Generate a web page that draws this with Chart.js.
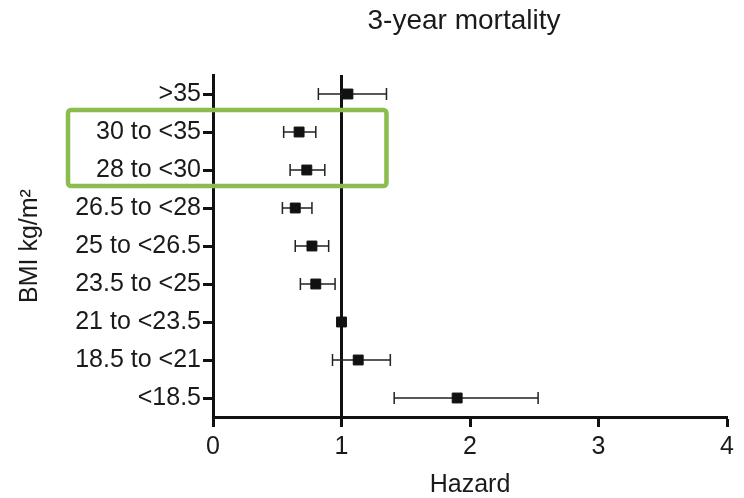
<!DOCTYPE html>
<html lang="en">
<head>
  <meta charset="UTF-8">
  <title>3-year mortality</title>
  <script src="https://cdn.jsdelivr.net/npm/chart.js"></script>
  <style>
    body { margin: 0; background: #fff; }
    #wrap { width: 744px; height: 498px; }
  </style>
</head>
<body>
  <div id="wrap"><canvas id="hazard-chart"></canvas></div>

  <script>
    // BMI groups, top to bottom
    const bmiGroups = ['>35', '30 to <35', '28 to <30', '26.5 to <28', '25 to <26.5', '23.5 to <25', '21 to <23.5', '18.5 to <21', '<18.5'];
    // hazard ratio and 95% CI per group (21 to <23.5 is the reference)
    const hazard = [1.05, 0.67, 0.73, 0.64, 0.77, 0.80, 1.00, 1.13, 1.90];
    const lower  = [0.82, 0.55, 0.60, 0.54, 0.64, 0.68, null, 0.93, 1.41];
    const upper  = [1.35, 0.80, 0.87, 0.77, 0.90, 0.95, null, 1.38, 2.53];
    const hazardTicks = [0, 1, 2, 3, 4];

    // highlighted rows and how far right the box reaches (hazard units)
    const boxRows = [1, 2];
    const boxRight = 1.35;

    const FONT = 'Liberation Sans, Arial, sans-serif';

    const forestPlugin = {
      id: 'forest',
      beforeDatasetsDraw(chart) {
        const { ctx, chartArea, scales: { x, y } } = chart;
        ctx.save();
        // reference line at hazard = 1
        ctx.strokeStyle = '#111';
        ctx.lineWidth = 3;
        const x1 = x.getPixelForValue(1);
        ctx.beginPath();
        ctx.moveTo(x1, chartArea.top);
        ctx.lineTo(x1, chartArea.bottom);
        ctx.stroke();

        // confidence intervals
        ctx.lineWidth = 1.5;
        ctx.strokeStyle = '#222';
        bmiGroups.forEach((g, i) => {
          if (lower[i] == null) return;
          const py = y.getPixelForValue(i);
          const xl = x.getPixelForValue(lower[i]);
          const xr = x.getPixelForValue(upper[i]);
          ctx.beginPath();
          ctx.moveTo(xl, py); ctx.lineTo(xr, py);
          ctx.moveTo(xl, py - 6); ctx.lineTo(xl, py + 6);
          ctx.moveTo(xr, py - 6); ctx.lineTo(xr, py + 6);
          ctx.stroke();
        });
        ctx.restore();
      },
      afterDraw(chart) {
        const { ctx, chartArea, scales: { x, y } } = chart;
        ctx.save();
        // chart title
        ctx.fillStyle = '#1a1a1a';
        ctx.font = '28px ' + FONT;
        ctx.textAlign = 'center';
        ctx.textBaseline = 'middle';
        ctx.fillText('3-year mortality', 464, 21);

        // green box around the overweight rows
        const gap = y.getPixelForValue(1) - y.getPixelForValue(0);
        const top = y.getPixelForValue(boxRows[0]) - gap * 0.58;
        const bottom = y.getPixelForValue(boxRows[1]) + gap * 0.42;
        const left = chartArea.left - 145;
        const right = x.getPixelForValue(boxRight);
        ctx.strokeStyle = '#8cbb4f';
        ctx.lineWidth = 4.5;
        ctx.beginPath();
        ctx.roundRect(left, top, right - left, bottom - top, 3);
        ctx.stroke();
        ctx.restore();
      }
    };

    new Chart(document.getElementById('hazard-chart'), {
      type: 'scatter',
      data: {
        datasets: [{
          data: bmiGroups.map((g, i) => ({ x: hazard[i], y: g })),
          pointStyle: 'rect',
          pointRadius: 7,
          pointBorderWidth: 1,
          backgroundColor: '#111',
          borderColor: '#111'
        }]
      },
      options: {
        responsive: true,
        maintainAspectRatio: false,
        animation: false,
        layout: { padding: { top: 75, right: 17, bottom: 0, left: 0 } },
        plugins: {
          legend: { display: false },
          tooltip: { enabled: false }
        },
        scales: {
          x: {
            type: 'linear',
            min: 0,
            max: 4,
            afterBuildTicks: s => { s.ticks = hazardTicks.map(v => ({ value: v })); },
            afterFit: s => { s.height = 81; },
            ticks: { font: { family: FONT, size: 25 }, color: '#1a1a1a', padding: 5 },
            grid: { drawOnChartArea: false, tickLength: 10, tickWidth: 3, tickColor: '#111' },
            border: { width: 3, color: '#111' },
            title: { display: true, text: 'Hazard', color: '#1a1a1a', font: { family: FONT, size: 25 }, padding: { top: 0, bottom: -2 } }
          },
          y: {
            type: 'category',
            labels: bmiGroups,
            offset: true,
            afterFit: s => { s.width = 213; },
            ticks: { font: { family: FONT, size: 25 }, color: '#1a1a1a', padding: 2 },
            grid: { drawOnChartArea: false, tickLength: 10, tickWidth: 3, tickColor: '#111' },
            border: { width: 3, color: '#111' },
            title: { display: true, text: 'BMI kg/m²', color: '#1a1a1a', font: { family: FONT, size: 25 }, padding: { top: 15, bottom: 0 } }
          }
        }
      },
      plugins: [forestPlugin]
    });
  </script>
</body>
</html>
